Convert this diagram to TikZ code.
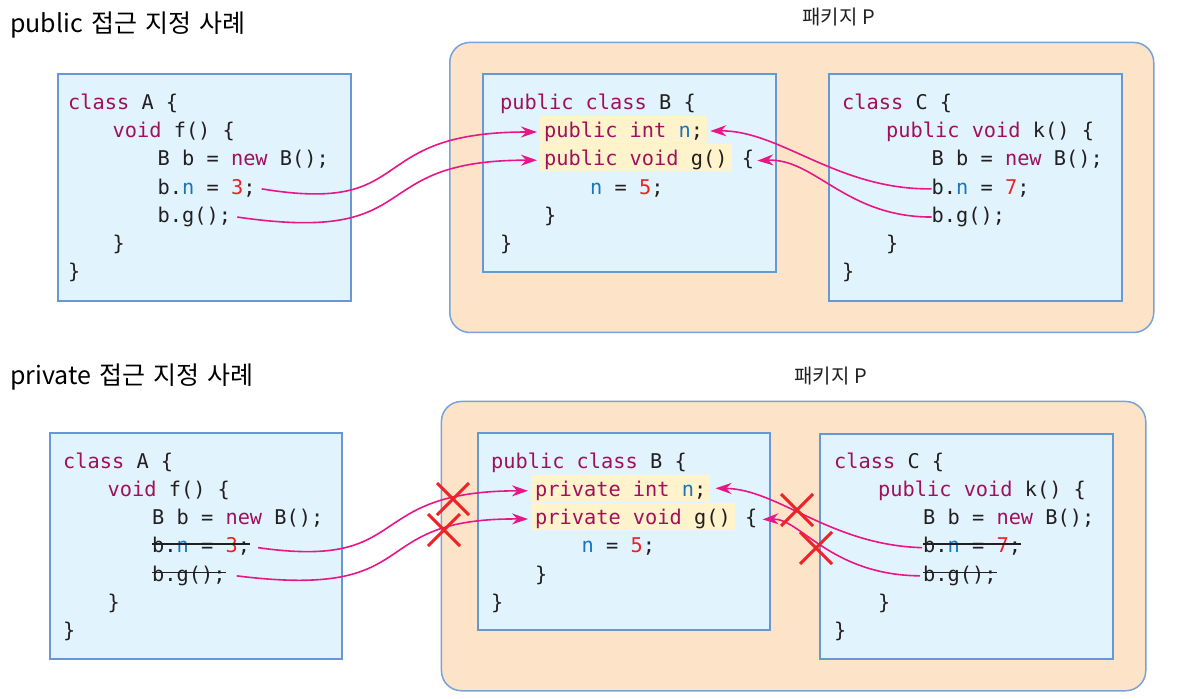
\documentclass[tikz,border=0pt]{standalone}
\usepackage{fontspec}
\usetikzlibrary{arrows.meta,positioning,shapes.misc}
\newfontfamily\codefont{DejaVu Sans Mono}
\newfontfamily\krfont{Noto Sans CJK KR}
\definecolor{kwcol}{RGB}{160,16,92}
\definecolor{idcol}{RGB}{27,117,188}
\definecolor{numcol}{RGB}{237,34,36}
\definecolor{inkcol}{RGB}{35,31,32}
\definecolor{boxfill}{RGB}{225,243,253}
\definecolor{boxline}{RGB}{104,152,212}
\definecolor{pkgfill}{RGB}{253,228,200}
\definecolor{pkgline}{RGB}{120,162,216}
\definecolor{markfill}{RGB}{255,243,203}
\definecolor{linkcol}{RGB}{232,22,135}
\definecolor{nogocol}{RGB}{236,36,40}
\newcommand\kwd[1]{\textcolor{kwcol}{#1}}
\newcommand\ident[1]{\textcolor{idcol}{#1}}
\newcommand\numb[1]{\textcolor{numcol}{#1}}

\begin{document}
\begin{tikzpicture}[x=1pt, y=-1pt,
    code/.style={anchor=base west, inner sep=0pt, text height=15pt, text depth=4.5pt, text=inkcol,
      font={\codefont\fontsize{20.3pt}{24pt}\selectfont}},
    marked/.style={code, fill=markfill, inner xsep=4pt, text height=21.7pt, text depth=5.3pt},
    classbox/.style={draw=boxline, fill=boxfill, line width=2pt, anchor=north west, inner sep=0pt},
    package/.style={draw=pkgline, fill=pkgfill, line width=1.5pt, rounded corners=20pt, anchor=north west, inner sep=0pt},
    heading/.style={anchor=base west, inner sep=0pt, text=black,
      font={\krfont\fontsize{25pt}{30pt}\selectfont\spaceskip=8pt\relax}},
    pkglabel/.style={anchor=base, inner sep=0pt, text=inkcol,
      font={\krfont\fontsize{20pt}{24pt}\selectfont\spaceskip=5pt\relax}},
    link/.style={draw=linkcol, line width=1.6pt, -{Stealth[length=16pt,width=11pt]}},
    strike/.style={draw=inkcol, line width=1.8pt},
    nogo/.style={draw=nogocol, cross out, line width=3pt, minimum size=29pt, inner sep=0pt}]

  \useasboundingbox (0,0) rectangle (1187,699);

  % public
  \node[heading] (pubtitle) at (10,32) {public 접근 지정 사례};
  \node[pkglabel] (toppkgname) at (839,24.5) {패키지 P};
  \node[package, minimum width=704, minimum height=290] (toppkg) at (449,41.7) {};
  \node[classbox, minimum width=292.5, minimum height=226.7] (topa) at (57,73.3) {};
  \node[classbox, minimum width=293.3, minimum height=197.4] (topb) at (481.7,73.3) {};
  \node[classbox, minimum width=293, minimum height=226.7] (topc) at (827.7,73.3) {};

  \node[code] (ta1) at (68,109.5) {\kwd{class} A \{};
  \node[code] (ta2) at (112.5,137.7) {\kwd{void} f() \{};
  \node[code] (ta3) at (157.5,165.9) {B b = \kwd{new} B();};
  \node[code] (tan) at (157.5,194.1) {b.\ident{n} = \numb{3};};
  \node[code] (tag) at (157.5,222.3) {b.g();};
  \node[code] (ta6) at (112.5,250.5) {\}};
  \node[code] (ta7) at (68,278.7) {\}};

  \node[code] (tb1) at (500,109.5) {\kwd{public class} B \{};
  \node[marked] (tbn) at (540,137.7) {\kwd{public int} \ident{n};};
  \node[marked] (tbg) at (540,165.9) {\kwd{public void} g()};
  \node[code, base right=10pt of tbg] (tbbrace) {\{};
  \node[code] (tb4) at (590,194.1) {\ident{n} = \numb{5};};
  \node[code] (tb5) at (544,222.3) {\}};
  \node[code] (tb6) at (500,250.5) {\}};

  \node[code] (tc1) at (842,109.5) {\kwd{class} C \{};
  \node[code] (tc2) at (886,137.7) {\kwd{public void} k() \{};
  \node[code] (tc3) at (931.5,165.9) {B b = \kwd{new} B();};
  \node[code] (tcn) at (931.5,194.1) {b.\ident{n} = \numb{7};};
  \node[code] (tcg) at (931.5,222.3) {b.g();};
  \node[code] (tc6) at (886,250.5) {\}};
  \node[code] (tc7) at (842,278.7) {\}};

  \draw[link] ([xshift=6pt]tan.east) .. controls (420,215) and (360,132) .. ([xshift=-3pt,yshift=-2.5pt]tbn.west);
  \draw[link] ([xshift=6pt]tag.east) .. controls (430,245) and (360,160) .. ([xshift=-3pt,yshift=-2.5pt]tbg.west);
  \draw[link] (tcn.west) .. controls (837,190) and (780,130) .. ([xshift=3pt,yshift=-1.5pt]tbn.east);
  \draw[link] (tcg.west) .. controls (845,217) and (815,158) .. ([xshift=3pt]tbbrace.east);

  % private
  \node[heading] (privtitle) at (10,384) {private 접근 지정 사례};
  \node[pkglabel] (botpkgname) at (831,383.5) {패키지 P};
  \node[package, minimum width=704.3, minimum height=289.3] (botpkg) at (440.7,400.7) {};
  \node[classbox, minimum width=291.7, minimum height=226.6] (bota) at (49,431.7) {};
  \node[classbox, minimum width=291.7, minimum height=196.7] (botb) at (477.3,432.3) {};
  \node[classbox, minimum width=293.3, minimum height=225.6] (botc) at (819,432.7) {};

  \node[code] (ba1) at (63,468.3) {\kwd{class} A \{};
  \node[code] (ba2) at (107.5,496.5) {\kwd{void} f() \{};
  \node[code] (ba3) at (152,524.7) {B b = \kwd{new} B();};
  \node[code] (ban) at (152,552.9) {b.\ident{n} = \numb{3};};
  \node[code] (bag) at (152,581.1) {b.g();};
  \node[code] (ba6) at (107.5,609.3) {\}};
  \node[code] (ba7) at (63,637.5) {\}};

  \node[code] (bb1) at (491,468.3) {\kwd{public class} B \{};
  \node[marked] (bbn) at (531,496.5) {\kwd{private int} \ident{n};};
  \node[marked] (bbg) at (531,524.7) {\kwd{private void} g()};
  \node[code, base right=10pt of bbg] (bbbrace) {\{};
  \node[code] (bb4) at (581.5,552.9) {\ident{n} = \numb{5};};
  \node[code] (bb5) at (535,581.1) {\}};
  \node[code] (bb6) at (491,609.3) {\}};

  \node[code] (bc1) at (834,468.3) {\kwd{class} C \{};
  \node[code] (bc2) at (878,496.5) {\kwd{public void} k() \{};
  \node[code] (bc3) at (923,524.7) {B b = \kwd{new} B();};
  \node[code] (bcn) at (923,552.9) {b.\ident{n} = \numb{7};};
  \node[code] (bcg) at (923,581.1) {b.g();};
  \node[code] (bc6) at (878,609.3) {\}};
  \node[code] (bc7) at (834,637.5) {\}};

  \foreach \line in {ban,bag,bcn,bcg}
    \draw[strike] ([yshift=8.7pt]\line.base west) -- ([yshift=8.7pt]\line.base east);

  \draw[link] ([xshift=8pt]ban.east) .. controls (415,570) and (360,491) .. ([xshift=-3pt,yshift=-2.5pt]bbn.west);
  \draw[link] ([xshift=11pt]bag.east) .. controls (430,600) and (360,518) .. ([xshift=-3pt,yshift=-2.5pt]bbg.west);
  \draw[link] ([xshift=-1pt]bcn.west) .. controls (830,545) and (778,489) .. ([xshift=5pt]bbn.east);
  \draw[link] ([xshift=-3pt]bcg.west) .. controls (830,575) and (800,518) .. ([xshift=5pt]bbbrace.east);

  \node[nogo] (cross1) at (453,499) {};
  \node[nogo] (cross2) at (444,530) {};
  \node[nogo] (cross3) at (797,510) {};
  \node[nogo] (cross4) at (816,548) {};

\end{tikzpicture}
\end{document}
